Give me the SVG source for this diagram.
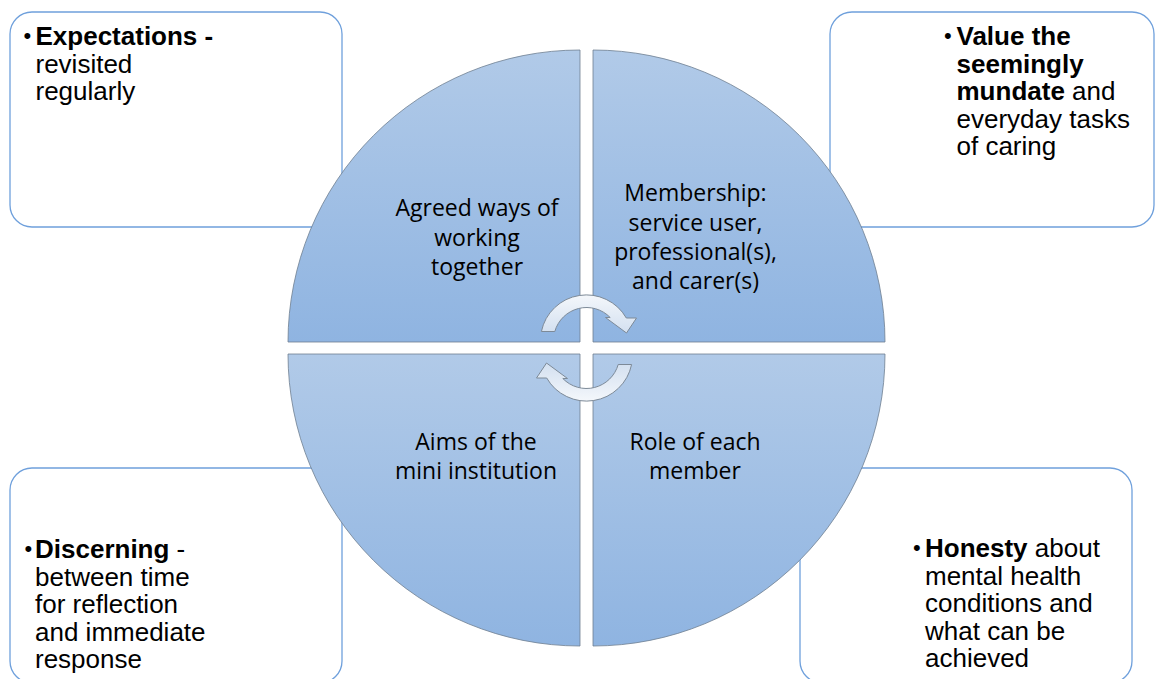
<svg xmlns="http://www.w3.org/2000/svg" width="1155" height="679" viewBox="0 0 1155 679">
<defs>
<linearGradient id="qg" x1="0" y1="0" x2="0" y2="1">
<stop offset="0" stop-color="#b1cae8"/>
<stop offset="1" stop-color="#8fb4e1"/>
</linearGradient>
<linearGradient id="ag" x1="0" y1="0" x2="0" y2="1">
<stop offset="0" stop-color="#f4f7fb"/>
<stop offset="1" stop-color="#d3e0f0"/>
</linearGradient>
<style>
.box{fill:#fff;stroke:#6fa0dc;stroke-width:1.3}
.q{fill:url(#qg);stroke:#6f7f90;stroke-width:0.8}
.arr{fill:url(#ag);stroke:#7d8a98;stroke-width:1}
.bt{font-family:"Liberation Sans",Arial,sans-serif;font-size:26px;fill:#000}
.bu{font-family:"Liberation Sans",Arial,sans-serif;font-size:22px;fill:#000}
.b{font-weight:bold}
.ct{font-family:"Open Sans","Noto Sans",sans-serif;font-size:23px;fill:#000;text-anchor:middle}
</style>
</defs>

<g id="box-expectations">
<rect class="box" x="10" y="12" width="332" height="215" rx="22"/>
<text class="bu" x="23.5" y="43">•</text>
<text class="bt" x="35.5" y="45"><tspan class="b">Expectations -</tspan></text>
<text class="bt" x="35.5" y="72.5">revisited</text>
<text class="bt" x="35.5" y="100">regularly</text>
</g>

<g id="box-value">
<rect class="box" x="830" y="12" width="324" height="215" rx="22"/>
<text class="bu" x="944" y="43">•</text>
<text class="bt b" x="956.5" y="45">Value the</text>
<text class="bt b" x="956.5" y="72.5">seemingly</text>
<text class="bt" x="956.5" y="100"><tspan class="b">mundate</tspan> and</text>
<text class="bt" x="956.5" y="127.5">everyday tasks</text>
<text class="bt" x="956.5" y="155">of caring</text>
</g>

<g id="box-discerning">
<rect class="box" x="10" y="468" width="332" height="215" rx="22"/>
<text class="bu" x="24.5" y="556">•</text>
<text class="bt" x="35" y="558"><tspan class="b">Discerning</tspan> -</text>
<text class="bt" x="35" y="585.5">between time</text>
<text class="bt" x="35" y="613">for reflection</text>
<text class="bt" x="35" y="640.5">and immediate</text>
<text class="bt" x="35" y="668">response</text>
</g>

<g id="box-honesty">
<rect class="box" x="800" y="468" width="332" height="215" rx="22"/>
<text class="bu" x="913" y="555">•</text>
<text class="bt" x="925" y="557"><tspan class="b">Honesty</tspan> about</text>
<text class="bt" x="925" y="584.5">mental health</text>
<text class="bt" x="925" y="612">conditions and</text>
<text class="bt" x="925" y="639.5">what can be</text>
<text class="bt" x="925" y="667">achieved</text>
</g>

<g id="q-agreed">
<path class="q" d="M580 342 L288 342 A292 292 0 0 1 580 50 Z"/>
<text class="ct" x="477" y="216">Agreed ways of</text>
<text class="ct" x="477" y="246">working</text>
<text class="ct" x="477" y="275">together</text>
</g>

<g id="q-membership">
<path class="q" d="M593 342 L593 50 A292 292 0 0 1 885 342 Z"/>
<text class="ct" x="695.5" y="201">Membership:</text>
<text class="ct" x="695.5" y="230.5">service user,</text>
<text class="ct" x="695.5" y="259.5">professional(s),</text>
<text class="ct" x="695.5" y="289">and carer(s)</text>
</g>

<g id="q-aims">
<path class="q" d="M580 354 L580 646 A292 292 0 0 1 288 354 Z"/>
<text class="ct" x="476" y="450">Aims of the</text>
<text class="ct" x="476" y="479">mini institution</text>
</g>

<g id="q-role">
<path class="q" d="M593 354 L885 354 A292 292 0 0 1 593 646 Z"/>
<text class="ct" x="695" y="450">Role of each</text>
<text class="ct" x="695" y="479">member</text>
</g>

<g id="connectors">
<path id="arrow-top" class="arr" d="M541.4 331.5 A46 46 0 0 1 626.3 318 L636.5 318 L626.5 333 L605.5 317.5 L610.2 317.5 A33 33 0 0 0 554.8 331.5 Z"/>
<path id="arrow-bottom" class="arr" transform="rotate(180 586.5 348)" d="M541.4 331.5 A46 46 0 0 1 626.3 318 L636.5 318 L626.5 333 L605.5 317.5 L610.2 317.5 A33 33 0 0 0 554.8 331.5 Z"/>
</g>
</svg>
